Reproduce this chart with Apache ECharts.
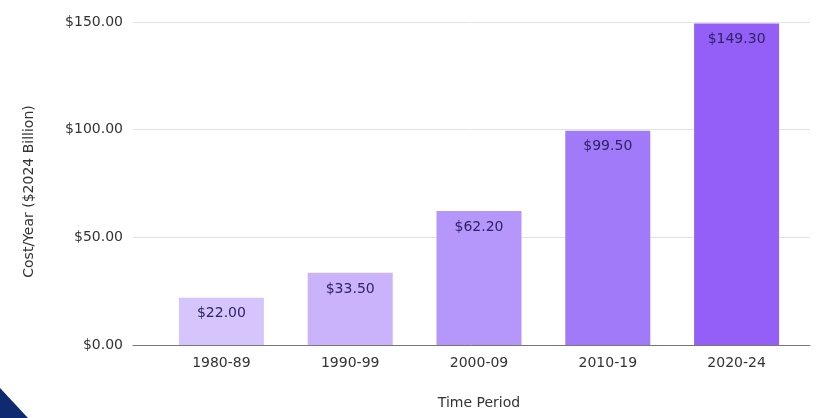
<!DOCTYPE html>
<html><head><meta charset="utf-8">
<script src="https://cdn.jsdelivr.net/npm/echarts@6/dist/echarts.min.js"></script>
<style>html,body{margin:0;padding:0;background:#fff;}#c{width:823px;height:418px;}</style>
</head><body><div id="c"></div>
<script>
const categories = ['1980-89', '1990-99', '2000-09', '2010-19', '2020-24'];
const costValues = [22.0, 33.5, 62.2, 99.5, 149.3];
const barColors = ['#d6c4fc', '#cab3fb', '#b596fa', '#a07af8', '#935ff7'];
const yTicks = [0, 50, 100, 150];
const yAxisName = 'Cost/Year ($2024 Billion)';
const xAxisName = 'Time Period';

const chart = echarts.init(document.getElementById('c'));
const font = '"DejaVu Sans", Verdana, sans-serif';
chart.setOption({
  animation: false,
  backgroundColor: '#fff',
  grid: [
    {left: 133, right: 13, top: 22, bottom: 73},
    {left: 157, right: 22, top: 22, bottom: 73}
  ],
  xAxis: [
    {gridIndex: 0, type: 'value', min: 0, max: 1, show: true,
     axisLine: {show: true, lineStyle: {color: '#777', width: 1}},
     axisTick: {show: false}, axisLabel: {show: false}, splitLine: {show: false}},
    {gridIndex: 1, type: 'category', data: categories,
     axisLine: {show: false}, axisTick: {show: false},
     axisLabel: {color: '#333', fontSize: 14, fontFamily: font, margin: 11},
     name: xAxisName, nameLocation: 'middle', nameGap: 51,
     nameTextStyle: {color: '#333', fontSize: 14, fontFamily: font}}
  ],
  yAxis: [
    {gridIndex: 0, type: 'value', min: yTicks[0], max: yTicks[yTicks.length-1], interval: 50,
     axisLine: {show: false}, axisTick: {show: false},
     axisLabel: {color: '#333', fontSize: 14, fontFamily: font, margin: 10,
       formatter: v => '$' + v.toFixed(2)},
     splitLine: {lineStyle: {color: '#e2e2e2', width: 1}},
     name: yAxisName, nameLocation: 'middle', nameGap: 97, nameRotate: 90,
     nameTextStyle: {color: '#333', fontSize: 14, fontFamily: font, padding: [0, 0, 0, -16]}},
    {gridIndex: 1, type: 'value', min: yTicks[0], max: yTicks[yTicks.length-1], interval: 50,
     show: false, splitLine: {show: false}}
  ],
  series: [{
    type: 'bar', xAxisIndex: 1, yAxisIndex: 1,
    barWidth: '66%',
    data: costValues.map((v, i) => ({value: v, itemStyle: {color: barColors[i]}})),
    label: {show: true, position: 'insideTop', distance: 9, color: '#2e2466',
      fontSize: 14, fontFamily: font, formatter: p => '$' + p.value.toFixed(2)}
  }],
  graphic: [{
    type: 'polygon', shape: {points: [[0, 388], [0, 418], [28, 418]]},
    style: {fill: '#0f2a6e'}
  }]
});
</script></body></html>
